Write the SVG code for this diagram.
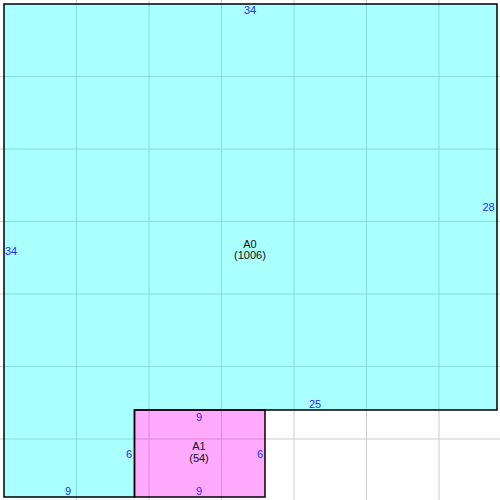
<svg xmlns="http://www.w3.org/2000/svg" width="500" height="500" viewBox="0 0 500 500">
<style>
.room{stroke:#000;stroke-width:1.5}
.grid line{stroke:#cccccc;stroke-width:1}
.dim{font-family:"Liberation Sans",Arial,sans-serif;font-size:11px;fill:#2a2aff;text-anchor:middle}
.name{font-family:"Liberation Sans",Arial,sans-serif;font-size:11px;fill:#111;text-anchor:middle}
</style>
<rect width="500" height="500" fill="#fff"/>
<g class="grid" id="grid">
<line x1="76.5" y1="0" x2="76.5" y2="500"/>
<line x1="149" y1="0" x2="149" y2="500"/>
<line x1="221.5" y1="0" x2="221.5" y2="500"/>
<line x1="294" y1="0" x2="294" y2="500"/>
<line x1="366.5" y1="0" x2="366.5" y2="500"/>
<line x1="439" y1="0" x2="439" y2="500"/>
<line x1="0" y1="76.5" x2="500" y2="76.5"/>
<line x1="0" y1="149" x2="500" y2="149"/>
<line x1="0" y1="221.5" x2="500" y2="221.5"/>
<line x1="0" y1="294" x2="500" y2="294"/>
<line x1="0" y1="366.5" x2="500" y2="366.5"/>
<line x1="0" y1="439" x2="500" y2="439"/>
</g>
<g id="A0">
<polygon class="room" fill="#00ffff" fill-opacity="0.333" points="4,4 497,4 497,410 134.5,410 134.5,497 4,497"/>
</g>
<g id="A1">
<rect class="room" fill="#ff00ff" fill-opacity="0.333" x="134.5" y="410" width="130.5" height="87"/>
</g>
<g id="labels">
<text class="dim" x="250" y="14">34</text>
<text class="dim" x="11" y="255">34</text>
<text class="dim" x="488.5" y="211">28</text>
<text class="dim" x="315" y="408">25</text>
<text class="dim" x="68" y="495">9</text>
<text class="name" x="250" y="248">A0</text>
<text class="name" x="250" y="259">(1006)</text>
<text class="dim" x="199" y="421">9</text>
<text class="dim" x="199" y="495">9</text>
<text class="dim" x="129" y="458">6</text>
<text class="dim" x="260" y="458">6</text>
<text class="name" x="199" y="450">A1</text>
<text class="name" x="199" y="462">(54)</text>
</g>
</svg>
